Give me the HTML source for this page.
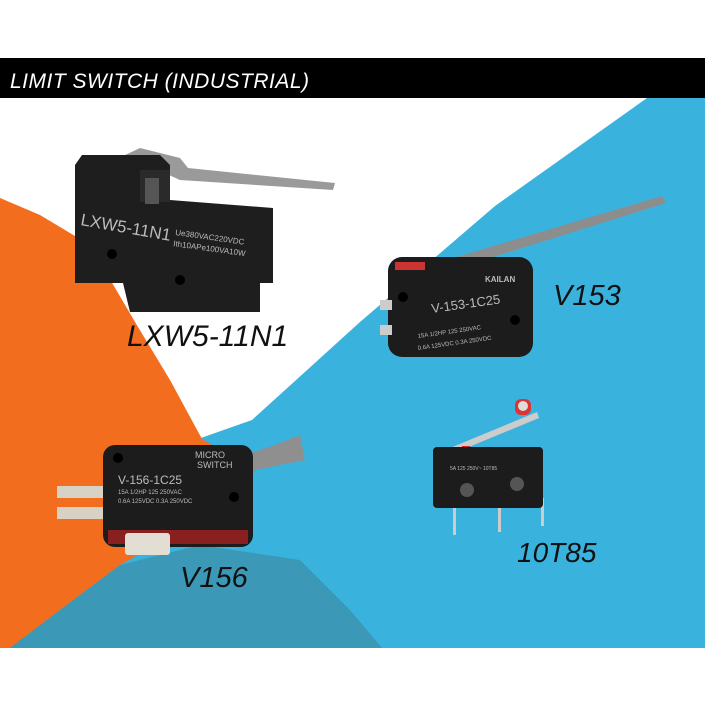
<!DOCTYPE html>
<html><head><meta charset="utf-8"><style>
html,body{margin:0;padding:0;background:#fff;}
svg{display:block}
.lbl{font-family:"Comic Sans MS","Liberation Sans",sans-serif;font-style:italic;fill:#111;}
.chip{font-family:"Liberation Sans",sans-serif;fill:#bbb;}
</style></head><body>
<svg width="705" height="705" viewBox="0 0 705 705" xmlns="http://www.w3.org/2000/svg">
<rect width="705" height="705" fill="#fff"/>
<polygon points="647,98 705,98 705,648 0,648 0,440 198,439 252,420 360,322 495,206" fill="#3ab2de"/>
<polygon points="0,198 40,215 90,245 135,322 170,380 202,439 255,470 200,520 120,565 60,610 10,648 0,648" fill="#f26d1e"/>
<polygon points="60,610 120,565 200,545 300,560 350,610 382,648 10,648" fill="#3b98b7"/>
<rect x="0" y="58" width="705" height="40" fill="#000"/>
<text x="10" y="88" font-family="Comic Sans MS,Liberation Sans,sans-serif" font-style="italic" font-size="21" fill="#fff" letter-spacing="0.5">LIMIT SWITCH (INDUSTRIAL)</text>

<!-- LXW5 -->
<path d="M125,155 L140,148 L180,158 L188,168 L335,183 L333,190 L180,180 Z" fill="#9a9a9a"/>
<path d="M82,155 L160,155 L170,165 L170,200 L273,208 L273,283 L260,283 L260,312 L130,312 L123,283 L75,283 L75,165 Z" fill="#1e1e1e"/>
<rect x="140" y="170" width="30" height="32" fill="#2a2a2a"/>
<rect x="145" y="178" width="14" height="26" fill="#555"/>
<circle cx="112" cy="254" r="5" fill="#000"/>
<circle cx="180" cy="280" r="5" fill="#000"/>
<text x="80" y="225" class="chip" font-size="17" transform="rotate(10 80 225)">LXW5-11N1</text>
<text x="175" y="235" class="chip" font-size="8" transform="rotate(8 175 235)">Ue380VAC220VDC</text>
<text x="173" y="246" class="chip" font-size="8" transform="rotate(8 173 246)">Ith10APe100VA10W</text>
<text x="127" y="346" class="lbl" font-size="30">LXW5-11N1</text>

<!-- V153 -->
<polygon points="440,262 662,196 666,203 445,272" fill="#8d8d8d"/>
<rect x="388" y="257" width="145" height="100" rx="14" fill="#1c1c1c"/>
<rect x="395" y="262" width="30" height="8" fill="#c33"/>
<rect x="380" y="300" width="12" height="10" fill="#ccc"/>
<rect x="380" y="325" width="12" height="10" fill="#ccc"/>
<circle cx="403" cy="297" r="5" fill="#000"/>
<circle cx="515" cy="320" r="5" fill="#000"/>
<text x="485" y="282" class="chip" font-size="8" font-weight="bold">KAILAN</text>
<text x="432" y="313" class="chip" font-size="13" transform="rotate(-8 432 313)">V-153-1C25</text>
<text x="418" y="338" class="chip" font-size="6" transform="rotate(-8 418 338)">15A 1/2HP 125 250VAC</text>
<text x="418" y="350" class="chip" font-size="6" transform="rotate(-8 418 350)">0.6A 125VDC 0.3A 250VDC</text>
<text x="553" y="305" class="lbl" font-size="29">V153</text>

<!-- V156 -->
<polygon points="245,455 275,445 300,435 305,460 255,470" fill="#8f8f8f"/>
<rect x="57" y="486" width="48" height="12" fill="#d8d2c5"/>
<rect x="57" y="507" width="48" height="12" fill="#d8d2c5"/>
<rect x="103" y="445" width="150" height="102" rx="12" fill="#1c1c1c"/>
<rect x="108" y="530" width="140" height="14" fill="#8a1f1f"/>
<rect x="125" y="533" width="45" height="22" rx="3" fill="#e2ded4"/>
<circle cx="118" cy="458" r="5" fill="#000"/>
<circle cx="234" cy="497" r="5" fill="#000"/>
<text x="195" y="458" class="chip" font-size="9">MICRO</text>
<text x="197" y="468" class="chip" font-size="9">SWITCH</text>
<text x="118" y="484" class="chip" font-size="12">V-156-1C25</text>
<text x="118" y="494" class="chip" font-size="6">15A 1/2HP 125 250VAC</text>
<text x="118" y="503" class="chip" font-size="6">0.6A 125VDC 0.3A 250VDC</text>
<text x="180" y="587" class="lbl" font-size="29">V156</text>

<!-- 10T85 -->
<polygon points="450,448 537,412 539,418 452,454" fill="#ccc"/>
<rect x="515" y="399" width="16" height="16" rx="6" fill="#d33"/>
<circle cx="523" cy="406" r="5" fill="#ddd"/>
<rect x="462" y="446" width="8" height="6" fill="#d22"/>
<rect x="453" y="502" width="3" height="33" fill="#ccc"/>
<rect x="498" y="502" width="3" height="30" fill="#ccc"/>
<rect x="541" y="498" width="3" height="28" fill="#ccc"/>
<rect x="433" y="447" width="110" height="61" rx="4" fill="#1c1c1c"/>
<circle cx="467" cy="490" r="7" fill="#555"/>
<circle cx="517" cy="484" r="7" fill="#555"/>
<text x="450" y="470" class="chip" font-size="5">5A 125 250V~ 10T85</text>
<text x="517" y="562" class="lbl" font-size="28">10T85</text>
</svg>
</body></html>
